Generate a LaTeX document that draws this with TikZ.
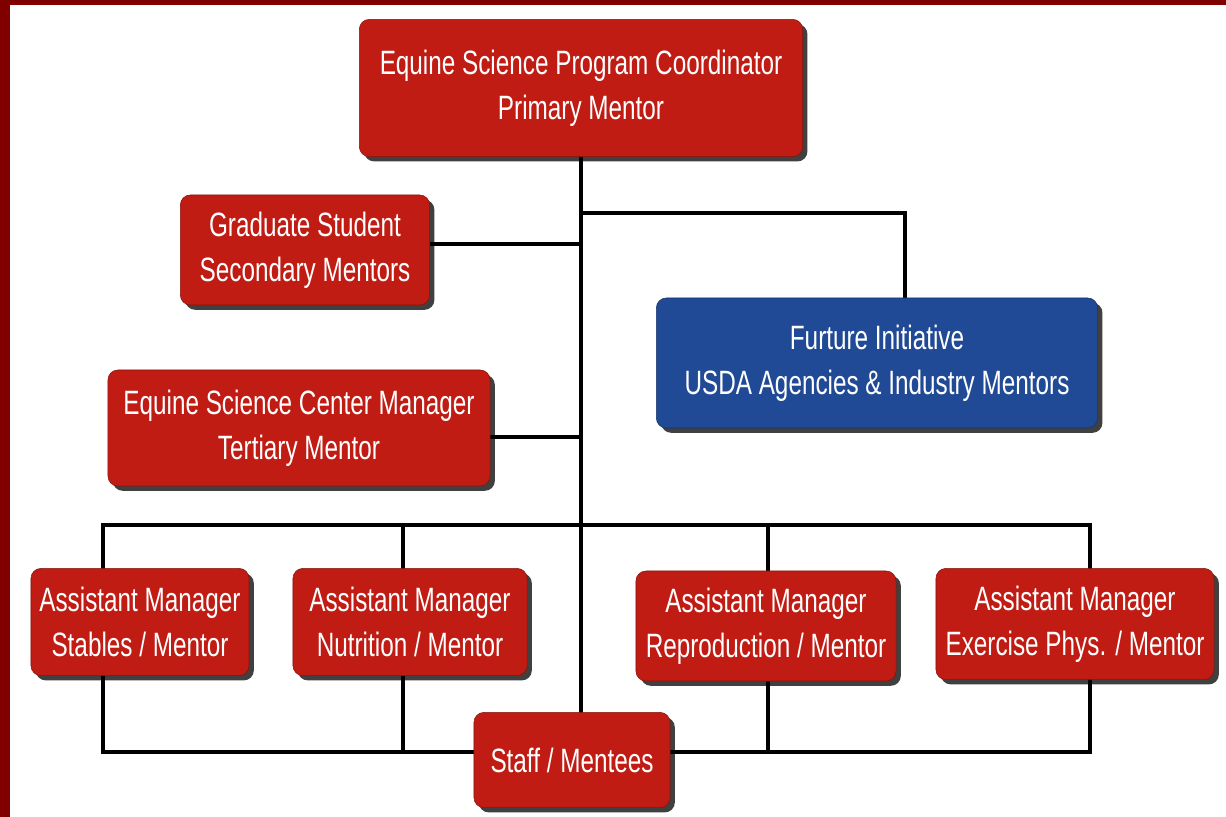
\documentclass[tikz,border=0pt]{standalone}
\usepackage{fontspec}
\setmainfont[FakeStretch=0.72]{Liberation Sans}
\usetikzlibrary{shadows}

\definecolor{boxred}{RGB}{192,28,20}
\definecolor{boxblue}{RGB}{32,74,150}
\definecolor{framered}{RGB}{128,0,0}

\tikzset{
  orgbox/.style={rounded corners=0.25cm, align=center, text=white,
    font=\fontsize{24}{32}\selectfont, inner sep=0pt,
    drop shadow={shadow xshift=0.12cm, shadow yshift=-0.12cm, opacity=0.75, fill=black}},
  redbox/.style={orgbox, fill=boxred, draw=boxred!70!black},
  bluebox/.style={orgbox, fill=boxblue, draw=boxblue!70!black},
  link/.style={draw=black, line width=2.8pt}
}

\begin{document}
\begin{tikzpicture}[x=0.025cm, y=-0.025cm]
  \useasboundingbox (0,0) rectangle (1226,817);
  \fill[white] (0,0) rectangle (1226,817);
  \fill[framered] (0,0) rectangle (10,817);
  \fill[framered] (0,0) rectangle (1226,5);

  % joints of the tree
  \coordinate (fork) at (581,213);
  \coordinate (forkR) at (905,213);
  \coordinate (busL) at (103,525);
  \coordinate (busR) at (1090,525);
  \coordinate (baseL) at (103,752);
  \coordinate (baseR) at (1090,752);
  \coordinate (dropN) at (403,525);
  \coordinate (dropR) at (768,525);

  % connectors first, boxes go on top
  \draw[link] (581,155) -- (581,713);
  \draw[link] (fork) -- (forkR) -- (905,298);
  \draw[link] (430,244) -- (581,244);
  \draw[link] (490,437) -- (581,437);
  \draw[link] (busL) -- (busR) -- (baseR) -- (baseL) -- cycle;
  \draw[link] (dropN) -- (dropN |- baseL);
  \draw[link] (dropR) -- (dropR |- baseL);

  \node[redbox, minimum width=11.08cm, minimum height=3.43cm] (coord) at (581,88)
    {Equine Science Program Coordinator\\Primary Mentor};
  \node[redbox, minimum width=6.23cm, minimum height=2.75cm] (grad) at (305,250)
    {Graduate Student\\Secondary Mentors};
  \node[bluebox, minimum width=11.03cm, minimum height=3.25cm] (usda) at (877,363)
    {Furture Initiative\\USDA Agencies \& Industry Mentors};
  \node[redbox, minimum width=9.55cm, minimum height=2.9cm] (mgr) at (299,428)
    {Equine Science Center Manager\\Tertiary Mentor};

  \node[redbox, minimum width=5.45cm, minimum height=2.68cm] (stables) at (140,622)
    {Assistant Manager\\Stables / Mentor};
  \node[redbox, minimum width=5.85cm, minimum height=2.68cm] (nutri) at (410,622)
    {Assistant Manager\\Nutrition / Mentor};
  \node[redbox, minimum width=6.5cm, minimum height=2.75cm] (repro) at (766,626)
    {Assistant Manager\\Reproduction / Mentor};
  \node[redbox, minimum width=6.95cm, minimum height=2.78cm] (exer) at (1075,624)
    {Assistant Manager\\Exercise Phys. / Mentor};

  \node[redbox, minimum width=4.9cm, minimum height=2.38cm] (staff) at (572,760)
    {Staff / Mentees};
\end{tikzpicture}
\end{document}
